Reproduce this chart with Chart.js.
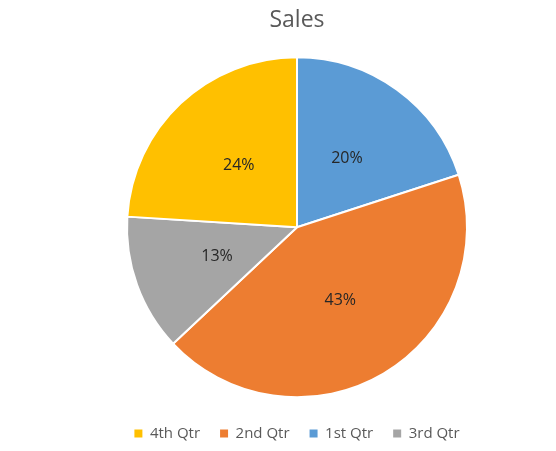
<!DOCTYPE html>
<html><head><meta charset="utf-8">
<script src="https://cdn.jsdelivr.net/npm/chart.js@4"></script>
<style>html,body{margin:0;padding:0;background:#fff}#wrap{width:556px;height:451px}</style>
</head><body><div id="wrap"><canvas id="c"></canvas></div>
<script>
const categories = ['1st Qtr', '2nd Qtr', '3rd Qtr', '4th Qtr'];
const salesValues = [20, 43, 13, 24];
const percentLabels = ['20%', '43%', '13%', '24%'];
const legendOrder = ['4th Qtr', '2nd Qtr', '1st Qtr', '3rd Qtr'];
const sliceColors = ['#5B9BD5', '#ED7D31', '#A5A5A5', '#FFC000'];

const labelPlugin = {
  id: 'sliceLabels',
  afterDatasetsDraw(chart) {
    const ctx = chart.ctx;
    const meta = chart.getDatasetMeta(0);
    ctx.save();
    ctx.font = '16px "Open Sans", sans-serif';
    ctx.fillStyle = '#262626';
    ctx.textAlign = 'center';
    ctx.textBaseline = 'middle';
    meta.data.forEach((arc, i) => {
      const p = arc.tooltipPosition();
      ctx.fillText(percentLabels[i], p.x, p.y);
    });
    ctx.restore();
  }
};

new Chart(document.getElementById('c'), {
  type: 'pie',
  data: {
    labels: categories,
    datasets: [{
      data: salesValues,
      backgroundColor: sliceColors,
      borderColor: '#ffffff',
      borderWidth: 2,
      radius: 170
    }]
  },
  options: {
    responsive: true,
    maintainAspectRatio: false,
    animation: false,
    layout: { padding: { left: 38, right: 0, top: 4, bottom: 0 } },
    plugins: {
      title: {
        display: true, text: 'Sales', color: '#595959',
        font: { family: '"Open Sans", sans-serif', size: 23, weight: 'normal' },
        padding: { top: 3, bottom: 14 }
      },
      legend: {
        position: 'bottom',
        labels: {
          color: '#595959', boxWidth: 8, boxHeight: 8, padding: 20,
          font: { family: '"Open Sans", sans-serif', size: 15 },
          sort: (a, b) => legendOrder.indexOf(a.text) - legendOrder.indexOf(b.text),
          generateLabels: (chart) => {
            const base = Chart.overrides.pie.plugins.legend.labels.generateLabels(chart);
            base.forEach(l => { l.lineWidth = 0; l.strokeStyle = 'rgba(0,0,0,0)'; });
            return base;
          }
        }
      },
      tooltip: { enabled: false }
    }
  },
  plugins: [labelPlugin]
});
</script></body></html>
